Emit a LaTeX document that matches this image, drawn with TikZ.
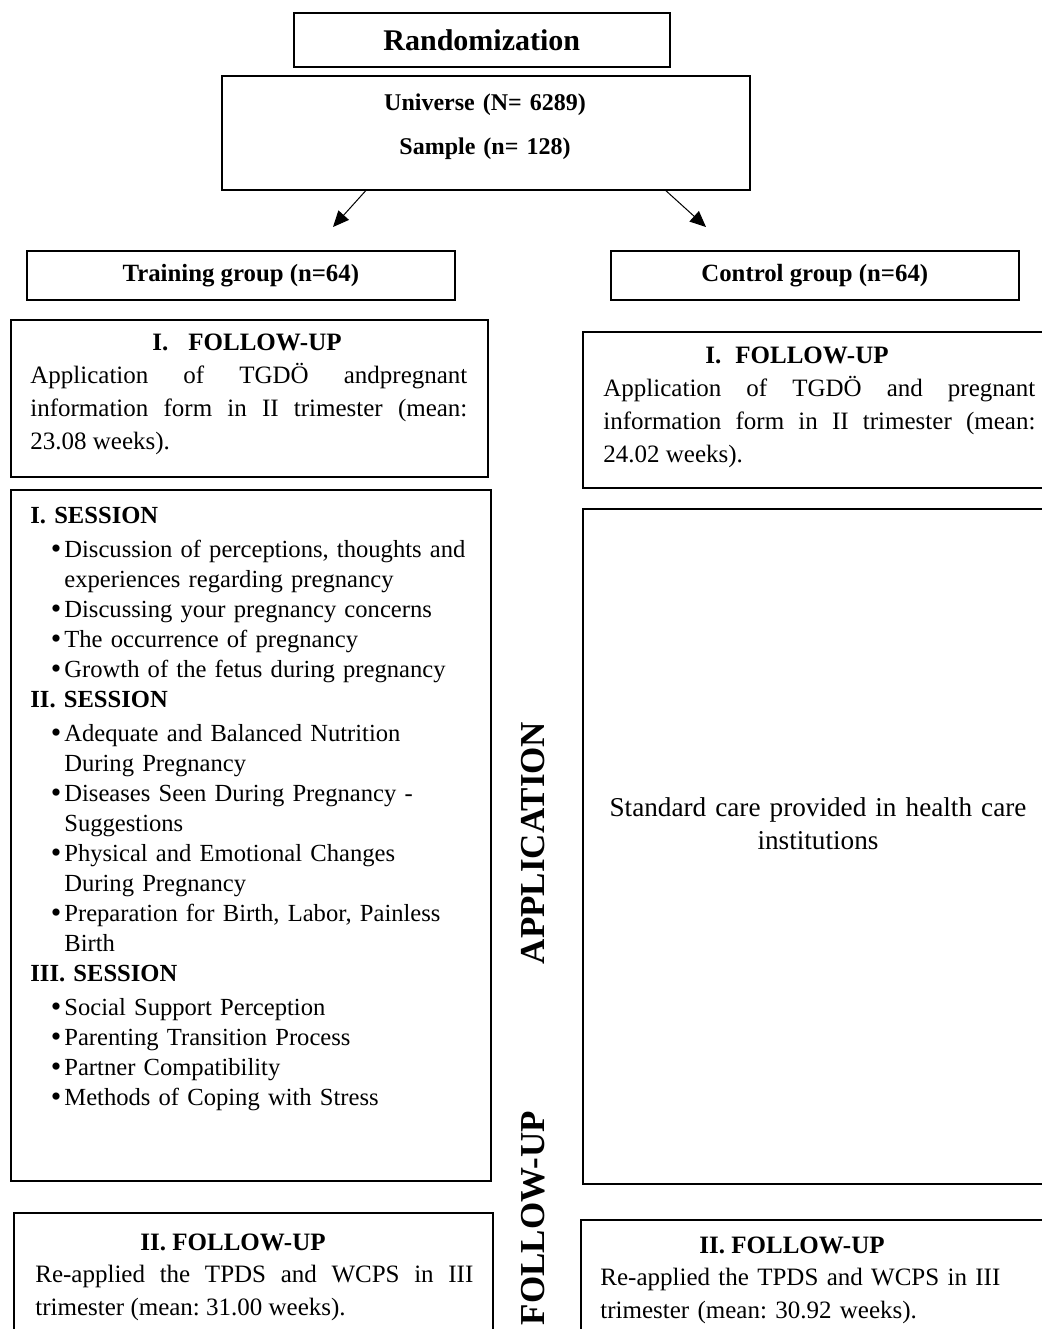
\documentclass[tikz,border=0pt]{standalone}
\usepackage{fontspec}
\setmainfont{Liberation Serif}
\usepackage{enumitem}
\usetikzlibrary{positioning}
\usetikzlibrary{arrows.meta}
\tolerance=10000
\hbadness=10000
\frenchspacing
\newcommand{\Fup}{FOLLOW-UP}
\newcommand{\Ngroup}{64}
\newcommand{\Trim}{trimester}
\tikzstyle{blk} = [draw=black, line width=0.8pt, rectangle, inner sep=0pt, anchor=north west]
\tikzstyle{hdr} = [inner sep=0pt, anchor=base, font=\fontsize{12.5}{15}\selectfont\bfseries]
\tikzstyle{txt} = [inner sep=0pt, anchor=base west, font=\fontsize{12.5}{16.5}\selectfont]
\tikzstyle{side} = [inner sep=0pt, rotate=90, font=\fontsize{17.5}{20}\selectfont\bfseries]
\tikzstyle{arr} = [-{Triangle[length=8pt,width=7pt]}, line width=0.5pt]
\setlist[itemize]{nosep, leftmargin=17pt, labelsep=1.5pt, label={\fontsize{15}{15}\selectfont\raisebox{-0.8pt}{\textbullet}}}

\begin{document}
\begin{tikzpicture}[x=0.5pt, y=-0.5pt]
\useasboundingbox (0,0) rectangle (1042,1329);
\clip (0,0) rectangle (1042,1329);

% Top boxes
\node[blk, minimum width=188pt, minimum height=27pt, font=\fontsize{15}{18}\selectfont\bfseries] (rand) at (293,12) {Randomization};
\node[blk, minimum width=264pt, minimum height=57pt] (univ) at (221,75) {};
\node[txt, anchor=base, text width=150pt, align=center, font=\fontsize{12}{22}\selectfont\bfseries] (univtxt) at (485,110) {Universe (N= 6289)\\ Sample (n= 128)};

\coordinate (toTrain) at (333,227);
\coordinate (toCtrl)  at (706,227);

% Groups
\node[blk, minimum width=214pt, minimum height=24.5pt, font=\fontsize{12.4}{14}\selectfont\bfseries] (train) at (26,250) {Training group (n=\Ngroup)};
\node[blk, minimum width=204pt, minimum height=24.5pt, font=\fontsize{12.4}{14}\selectfont\bfseries] (ctrl) at (610,250) {Control group (n=\Ngroup)};

% I. follow-up
\node[blk, minimum width=238.5pt, minimum height=78.5pt] (fuA) at (10,319) {};
\node[hdr] (fuAhd) at (247,350) {I.\hspace{10pt}\Fup};
\node[txt, text width=218.5pt, align=justify] (fuAtxt) at (30,383) {Application of TGDÖ andpregnant\linebreak information form in II \Trim{} (mean:\linebreak 23.08 weeks).};

\node[blk, minimum width=240pt, minimum height=78pt] (fuB) at (582,331) {};
\node[hdr] (fuBhd) at (797,363) {I.\hspace{7pt}\Fup};
\node[txt, text width=216pt, align=justify] (fuBtxt) at (603,396) {Application of TGDÖ and pregnant\linebreak information form in II \Trim{} (mean:\linebreak 24.02 weeks).};

% Application
\node[blk, minimum width=240pt, minimum height=345.5pt] (sess) at (10,489) {};
\node[txt, text width=228pt, align=left, font=\fontsize{12.3}{15}\selectfont] (sesstxt) at (30,523) {%
\textbf{I. SESSION}\par\vspace{2pt}
\begin{itemize}
\item Discussion of perceptions, thoughts and\newline experiences regarding pregnancy
\item Discussing your pregnancy concerns
\item The occurrence of pregnancy
\item Growth of the fetus during pregnancy
\end{itemize}
\textbf{II. SESSION}\par\vspace{2pt}
\begin{itemize}
\item Adequate and Balanced Nutrition\newline During Pregnancy
\item Diseases Seen During Pregnancy -\newline Suggestions
\item Physical and Emotional Changes\newline During Pregnancy
\item Preparation for Birth, Labor, Painless\newline Birth
\end{itemize}
\textbf{III. SESSION}\par\vspace{2pt}
\begin{itemize}
\item Social Support Perception
\item Parenting Transition Process
\item Partner Compatibility
\item Methods of Coping with Stress
\end{itemize}};

\node[blk, minimum width=240pt, minimum height=337.5pt] (std) at (582,508) {};
\node[txt, anchor=base, text width=225pt, align=center, font=\fontsize{13.6}{16.5}\selectfont] (stdtxt) at (818,816) {Standard care provided in health care\\ institutions};

\node[side] (applbl) at (533.5,843) {APPLICATION};
\node[side] (fulbl) at (533.5,1218) {\Fup};

% II. follow-up
\node[blk, minimum width=239.5pt, minimum height=80pt] (fuC) at (13,1212) {};
\node[hdr] (fuChd) at (233,1250) {II. \Fup};
\node[txt, text width=219pt, align=justify] (fuCtxt) at (35,1282) {Re-applied the TPDS and WCPS in III\linebreak \Trim{} (mean: 31.00 weeks).};

\node[blk, minimum width=241pt, minimum height=80pt] (fuD) at (580,1219) {};
\node[hdr] (fuDhd) at (792,1253) {II. \Fup};
\node[txt, text width=220pt, align=left] (fuDtxt) at (600,1285) {Re-applied the TPDS and WCPS in III\\ \Trim{} (mean: 30.92 weeks).};

% Edges
\draw[arr] ([xshift=-60pt]univ.south) -- (toTrain);
\draw[arr] ([xshift=90pt]univ.south)  -- (toCtrl);
\end{tikzpicture}
\end{document}
